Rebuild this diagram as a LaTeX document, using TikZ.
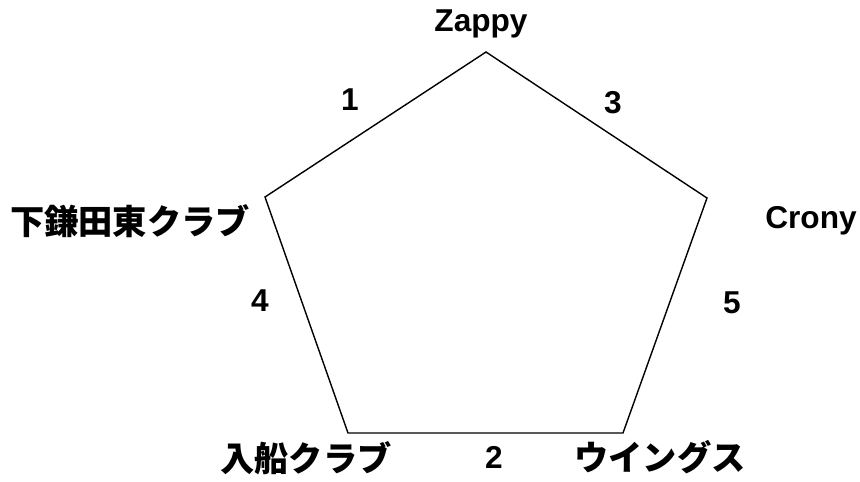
\documentclass[tikz,border=0pt]{standalone}
\usepackage{fontspec}
\setmainfont{Liberation Sans}
\newfontfamily\jpfont{Noto Sans CJK JP}
\begin{document}
\begin{tikzpicture}[
		x=0.02cm, y=-0.02cm,
		line width=0.8pt,
		every node/.style={font=\fontsize{18}{20}\selectfont\bfseries, inner sep=0pt},
		teamjp/.style={font=\fontsize{19.5}{21}\selectfont\jpfont\bfseries}
	]
		\useasboundingbox (0,0) rectangle (860,481);
		% vertices of the pentagon
		\coordinate (P1) at (486,52);
		\coordinate (P2) at (707,198);
		\coordinate (P3) at (623,433);
		\coordinate (P4) at (348,433);
		\coordinate (P5) at (265,197);
		\draw (P1) -- (P2) -- (P3) -- (P4) -- (P5) -- cycle;
		% team names
		\node (Zappy) at (481,24) {Zappy};
		\node (Crony) at (811,221) {Crony};
		\node[teamjp] (Wings) at (660,457) {ウイングス};
		\node[teamjp] (Irifune) at (306,458) {入船クラブ};
		\node[teamjp] (Shimo) at (130,221) {下鎌田東クラブ};
		% round numbers
		\node (n1) at (350,100) {1};
		\node (n3) at (613,103) {3};
		\node (n4) at (260,301) {4};
		\node (n5) at (732,303) {5};
		\node (n2) at (494,457) {2};
	\end{tikzpicture}
\end{document}
